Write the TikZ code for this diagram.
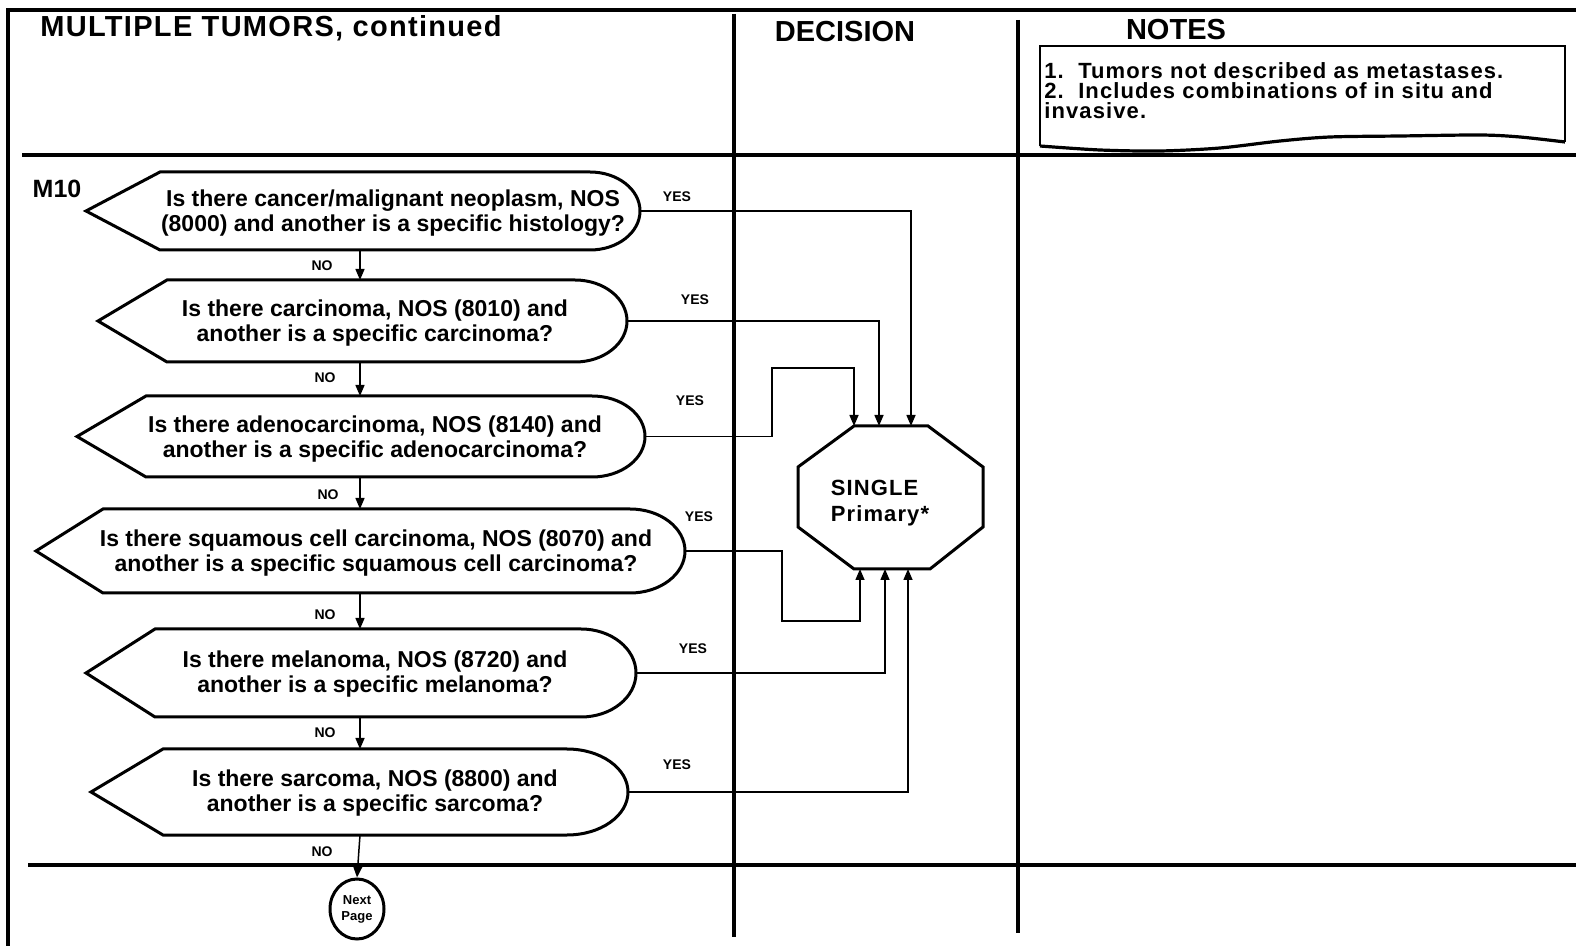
\documentclass[tikz,border=0pt]{standalone}
\usepackage{fontspec}
\setmainfont{Liberation Sans}
\usetikzlibrary{arrows.meta,shapes.geometric}
\newcommand\dispshape[7]{%
  % #1 name, #2 point x, #3 corner x, #4 top, #5 bottom, #6 flat end x, #7 right extreme x
  \draw[shapeline] (#2,{(#4+#5)/2}) -- (#3,#4) -- (#6,#4)
    .. controls ({#6+0.552*(#7-#6)},#4) and (#7,{(#4+#5)/2-0.552*(#5-#4)/2}) .. (#7,{(#4+#5)/2})
    .. controls (#7,{(#4+#5)/2+0.552*(#5-#4)/2}) and ({#6+0.552*(#7-#6)},#5) .. (#6,#5)
    -- (#3,#5) -- cycle;
  \coordinate (#1r) at (#7,{(#4+#5)/2});
  \coordinate (#1t) at (360,#4);
  \coordinate (#1b) at (360,#5);
}
\begin{document}
\begin{tikzpicture}[x=0.5pt,y=-0.5pt,
  frame/.style={line width=2pt},
  shapeline/.style={line width=1.5pt, line join=miter},
  conn/.style={line width=0.75pt},
  arr/.style={conn,-{Triangle[length=5.5pt,width=4.5pt]}},
  head/.style={font=\bfseries\fontsize{14.5}{16}\selectfont, inner sep=0pt},
  qtext/.style={font=\bfseries\fontsize{11.5}{12.5}\selectfont, align=center, inner sep=0pt},
  yn/.style={font=\bfseries\fontsize{7}{8}\selectfont, inner sep=0pt},
]
\useasboundingbox (0,0) rectangle (1576,946);
% frame
\draw[frame] (8,946) -- (8,10) -- (1576,10);
\draw[frame] (22,155) -- (1576,155);
\draw[frame] (28,865) -- (1576,865);
\draw[frame] (734,14) -- (734,937);
\draw[frame] (1018,20) -- (1018,933);
% headings
\node[head, anchor=west, font=\bfseries\fontsize{14.5}{16}\selectfont\addfontfeatures{LetterSpace=4.5}] (title) at (40,28) {MULTIPLE TUMORS, continued};
\node[head] (dec) at (845,32) {DECISION};
\node[head] (notes) at (1176,30) {NOTES};
% notes box
\draw[line width=1pt] (1040,146) -- (1040,46) -- (1565,46) -- (1565,142);
\draw[line width=1.6pt] plot[smooth] coordinates {(1565,142) (1520,137) (1480,135) (1400,136) (1330,137) (1280,141) (1220,148) (1160,151) (1100,150) (1040,146)};
\node[font=\bfseries\fontsize{11}{10}\selectfont\addfontfeatures{LetterSpace=5}, align=left, anchor=north west, inner sep=0pt] (notetext) at (1044,62)
  {1.\ \ Tumors not described as metastases.\\2.\ \ Includes combinations of in situ and\\invasive.};
% M10
\node[font=\bfseries\fontsize{12.5}{14}\selectfont, inner sep=0pt] (m10) at (57,189) {M10};
% question shapes
\dispshape{q1}{86}{160}{172}{250}{590}{640}
\dispshape{q2}{98}{167}{280}{362}{575}{627}
\dispshape{q3}{77}{146}{396}{477}{592}{645}
\dispshape{q4}{36}{103}{509}{593}{630}{685}
\dispshape{q5}{86}{155}{629}{717}{581}{636}
\dispshape{q6}{91}{163}{749}{835}{567}{628}
\node[qtext] (t1) at (393,213) {Is there cancer/malignant neoplasm, NOS\\(8000) and another is a specific histology?};
\node[qtext] (t2) at (375,323) {Is there carcinoma, NOS (8010) and\\another is a specific carcinoma?};
\node[qtext] (t3) at (375,439) {Is there adenocarcinoma, NOS (8140) and\\another is a specific adenocarcinoma?};
\node[qtext] (t4) at (376,553) {Is there squamous cell carcinoma, NOS (8070) and\\another is a specific squamous cell carcinoma?};
\node[qtext] (t5) at (375,674) {Is there melanoma, NOS (8720) and\\another is a specific melanoma?};
\node[qtext] (t6) at (375,793) {Is there sarcoma, NOS (8800) and\\another is a specific sarcoma?};
% octagon
\draw[shapeline] (854,426) -- (928,426) -- (983,467) -- (983,527) -- (930,569) -- (854,569) -- (798,527) -- (798,467) -- cycle;
\node[font=\bfseries\fontsize{11}{13}\selectfont\addfontfeatures{LetterSpace=5}, align=left, inner sep=0pt] (single) at (880,503) {SINGLE\\Primary*};
\coordinate (s1) at (911,426);
\coordinate (s2) at (879,426);
\coordinate (s3) at (854,426);
\coordinate (b1) at (860,569);
\coordinate (b2) at (885,569);
\coordinate (b3) at (908,569);
% next page
\node[ellipse, draw, line width=1.5pt, minimum width=27pt, minimum height=30pt, inner sep=0pt, align=center, font=\bfseries\fontsize{6.5}{8}\selectfont] (np) at (357,909) {Next\\Page};
% NO arrows
\draw[arr] (q1b) -- (q2t);
\draw[arr] (q2b) -- (q3t);
\draw[arr] (q3b) -- (q4t);
\draw[arr] (q4b) -- (q5t);
\draw[arr] (q5b) -- (q6t);
\draw[arr] (q6b) -- (np.north);
\node[yn] (no1) at (322,266) {NO};
\node[yn] (no2) at (325,378) {NO};
\node[yn] (no3) at (328,495) {NO};
\node[yn] (no4) at (325,615) {NO};
\node[yn] (no5) at (325,733) {NO};
\node[yn] (no6) at (322,852) {NO};
% YES connectors
\draw[arr] (q1r) -| (s1);
\draw[arr] (q2r) -| (s2);
\draw[arr] (q3r) -| (772,368) -| (s3);
\draw[arr] (q4r) -| (782,621) -| (b1);
\draw[arr] (q5r) -| (b2);
\draw[arr] (q6r) -| (b3);
\node[yn] (y1) at (677,197) {YES};
\node[yn] (y2) at (695,300) {YES};
\node[yn] (y3) at (690,401) {YES};
\node[yn] (y4) at (699,517) {YES};
\node[yn] (y5) at (693,649) {YES};
\node[yn] (y6) at (677,765) {YES};
\end{tikzpicture}
\end{document}
